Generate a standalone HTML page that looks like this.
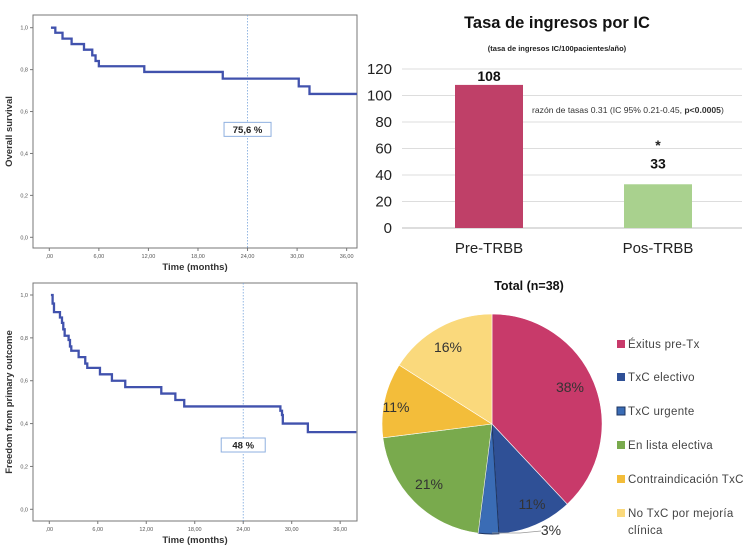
<!DOCTYPE html>
<html><head><meta charset="utf-8"><style>
html,body{margin:0;padding:0;background:#fff;}
svg{display:block;font-family:"Liberation Sans",sans-serif;}
</style></head><body>
<svg id="root" width="750" height="553" viewBox="0 0 750 553">
<g id="km1"></g>
<g id="km2"></g>
<g id="bar"></g>
<g id="pie"></g>
</svg>
<script>
// ---- KM data ----
const km1Times = [0.2, 0.73, 1.6, 2.7, 4.2, 5.2, 5.6, 6.0, 11.5, 21.0, 30.2, 31.5, 37.3];
const km1Surv  = [1.0, 0.976, 0.948, 0.922, 0.895, 0.868, 0.841, 0.816, 0.789, 0.757, 0.72, 0.684, 0.684];
const km1Label = "75,6 %";
const km2Times = [0.2, 0.41, 0.58, 1.32, 1.57, 1.73, 1.9, 2.39, 2.56, 2.72, 3.63, 4.45, 4.7, 6.27, 7.75, 9.4, 13.86, 15.6, 16.7, 28.6, 28.8, 28.9, 32.0, 38.0];
const km2Surv  = [1.0, 0.96, 0.92, 0.895, 0.87, 0.84, 0.81, 0.79, 0.76, 0.74, 0.71, 0.68, 0.66, 0.63, 0.60, 0.57, 0.54, 0.51, 0.48, 0.46, 0.44, 0.40, 0.36, 0.36];
const km2Label = "48 %";
const kmXTicks = [",00", "6,00", "12,00", "18,00", "24,00", "30,00", "36,00"];
const kmYTicks = ["0,0", "0,2", "0,4", "0,6", "0,8", "1,0"];
// ---- Bar data ----
const barCats = ["Pre-TRBB", "Pos-TRBB"];
const barVals = [108, 33];
const barTicks = [0, 20, 40, 60, 80, 100, 120];
// ---- Pie data ----
const pieCats = ["Éxitus pre-Tx", "TxC electivo", "TxC urgente", "En lista electiva", "Contraindicación TxC", "No TxC por mejoría clínica"];
const pieVals = [38, 11, 3, 21, 11, 16];

const NS = "http://www.w3.org/2000/svg";
function mk(tag, attrs, parent, text){
  const e = document.createElementNS(NS, tag);
  for (const k in attrs) e.setAttribute(k, attrs[k]);
  if (text !== undefined) e.textContent = text;
  parent.appendChild(e); return e;
}

function drawKM(g, cfg, times, surv, label, ytitle){
  const x = t => cfg.x0 + t * cfg.pxm;
  const y = v => cfg.y0 - v * (cfg.y0 - cfg.y1);
  let fr = mk('rect', {x:cfg.L, y:cfg.T, width:cfg.R-cfg.L, height:cfg.B-cfg.T, fill:'#fff', stroke:'#777', 'stroke-width':1}, g);
   
  kmYTicks.forEach((t,i)=>{
    const yy = y(i*0.2);
    mk('line',{x1:cfg.L-3,x2:cfg.L,y1:yy,y2:yy,stroke:'#777'},g);
    let tx = mk('text',{x:cfg.L-5,y:yy+2,'font-size':5.5,fill:'#555','text-anchor':'end'},g,t);
     
  });
  kmXTicks.forEach((t,i)=>{
    const xx = x(i*6);
    mk('line',{x1:xx,x2:xx,y1:cfg.B,y2:cfg.B+3,stroke:'#777'},g);
    let tx = mk('text',{x:xx,y:cfg.B+10,'font-size':5.5,fill:'#555','text-anchor':'middle'},g,t);
     
  });
  let xt = mk('text',{x:(cfg.L+cfg.R)/2,y:cfg.B+22,'font-size':9.5,'font-weight':'bold',fill:'#333','text-anchor':'middle'},g,'Time (months)');
   
  const cy=(cfg.T+cfg.B)/2;
  let yt = mk('text',{x:12,y:cy,'font-size':9.5,'font-weight':'bold',fill:'#333','text-anchor':'middle',transform:`rotate(-90 12 ${cy})`},g,ytitle);
   
  let vl = mk('line',{x1:x(24),x2:x(24),y1:cfg.T,y2:cfg.B,stroke:'#7aa6dc','stroke-width':0.8,'stroke-dasharray':'1.5,1.5'},g);
   
  let d = `M${x(times[0])},${y(surv[0])}`;
  for (let i=1;i<times.length;i++){ d += ` H${Math.min(x(times[i]),cfg.R)} V${y(surv[i])}`; }
  let p = mk('path',{d:d,fill:'none',stroke:'#4152ad','stroke-width':2.3},g);
   
  const bx = x(24), by = y(cfg.labelV);
  let br = mk('rect',{x:bx-cfg.bw/2,y:by-7,width:cfg.bw,height:14,fill:'#fff',stroke:'#8fb0e0','stroke-width':1},g);
   
  let bt = mk('text',{x:bx,y:by+3.5,'font-size':9.5,'font-weight':'bold',fill:'#222','text-anchor':'middle'},g,label);
   
}
drawKM(document.getElementById('km1'),{L:33,T:15,R:357,B:248,x0:49.3,pxm:8.26,y0:237.3,y1:27.7,labelV:0.515,bw:47},km1Times,km1Surv,km1Label,'Overall survival');
drawKM(document.getElementById('km2'),{L:33,T:283,R:357,B:521,x0:49.3,pxm:8.08,y0:509.3,y1:295,labelV:0.3,bw:44},km2Times,km2Surv,km2Label,'Freedom from primary outcome');

// ---- Bar chart ----
(function(){
  const g = document.getElementById('bar');
  const y = v => 228 - v * (228-69)/120;
  const cx = [489, 658], bw = 68;
  let t = mk('text',{x:557,y:28,'font-size':16.5,'font-weight':'bold',fill:'#111','text-anchor':'middle'},g,'Tasa de ingresos por IC');
   
  let st = mk('text',{x:557,y:51,'font-size':7.5,'font-weight':'bold',fill:'#222','text-anchor':'middle'},g,'(tasa de ingresos IC/100pacientes/año)');
   
  barTicks.forEach(v=>{
    let gl = mk('line',{x1:402,x2:742,y1:y(v),y2:y(v),stroke: v===0?'#bbb':'#ddd','stroke-width':1},g);
     
    let tl = mk('text',{x:392,y:y(v)+5,'font-size':15,fill:'#222','text-anchor':'end'},g,String(v));
     
  });
  const cols = ['#bf4068','#a9d18e'];
  barVals.forEach((v,i)=>{
    let r = mk('rect',{x:cx[i]-bw/2,y:y(v),width:bw,height:228-y(v),fill:cols[i]},g);
     
    let vl = mk('text',{x:cx[i],y:y(v)-4 - (i===1?12:0),'font-size':14,'font-weight':'bold',fill:'#111','text-anchor':'middle'},g,String(v));
     
    let cl = mk('text',{x:cx[i],y:253,'font-size':15,fill:'#222','text-anchor':'middle'},g,barCats[i]);
     
  });
  let star = mk('text',{x:658,y:150,'font-size':14,'font-weight':'bold',fill:'#222','text-anchor':'middle'},g,'*');
   
  const a = mk('text',{x:532,y:113,'font-size':8.6,fill:'#333'},g);
   
  mk('tspan',{},a,'razón de tasas 0.31 (IC 95% 0.21-0.45, ');
  mk('tspan',{'font-weight':'bold'},a,'p<0.0005');
  mk('tspan',{},a,')');
})();

// ---- Pie chart ----
(function(){
  const g = document.getElementById('pie');
  const cx=492, cy=424, r=110;
  const cols=['#c83a6a','#2f5096','#3a6cb5','#79aa4d','#f3bd3a','#fad97c'];
  const strokes=['#fff','#fff','#1f3560','#fff','#fff','#fff'];
  const lblPos=[[570,392],[532,509],[551,535],[429,489],[396,412],[448,352]];
  let t = mk('text',{x:529,y:290,'font-size':12.5,'font-weight':'bold',fill:'#111','text-anchor':'middle'},g,'Total (n=38)');
   
  const tot = pieVals.reduce((a,b)=>a+b,0);
  let a0 = 0;
  pieVals.forEach((v,i)=>{
    const a1 = a0 + v/tot*2*Math.PI;
    const x0=cx+r*Math.sin(a0), y0=cy-r*Math.cos(a0), x1=cx+r*Math.sin(a1), y1=cy-r*Math.cos(a1);
    const large = (a1-a0)>Math.PI?1:0;
    let p = mk('path',{d:`M${cx},${cy} L${x0},${y0} A${r},${r} 0 ${large} 1 ${x1},${y1} Z`,fill:cols[i],stroke:strokes[i],'stroke-width':i===2?1:0.6},g);
     
    a0 = a1;
  });
  mk('polyline',{points:'492,533 520,533 541,531',fill:'none',stroke:'#999','stroke-width':0.8},g);
  pieVals.forEach((v,i)=>{
    let l = mk('text',{x:lblPos[i][0],y:lblPos[i][1],'font-size':14,fill:'#333','text-anchor':'middle'},g,v+'%');
     
  });
  const rows=[348,381,415,449,483,517];
  pieCats.forEach((c,i)=>{
    let s = mk('rect',{x:617,y:rows[i]-8,width:8,height:8,fill:cols[i],stroke:i===2?'#1f3560':'none'},g);
     
    let tx;
    if (i===5){
      tx = mk('text',{x:628,y:rows[i],'font-size':11.5,fill:'#444','letter-spacing':0.3},g);
      mk('tspan',{x:628,y:rows[i]},tx,'No TxC por mejoría');
      mk('tspan',{x:628,y:rows[i]+17},tx,'clínica');
    } else {
      tx = mk('text',{x:628,y:rows[i],'font-size':11.5,fill:'#444','letter-spacing':0.3},g,c);
    }
     
  });
})();
</script>
</body></html>
